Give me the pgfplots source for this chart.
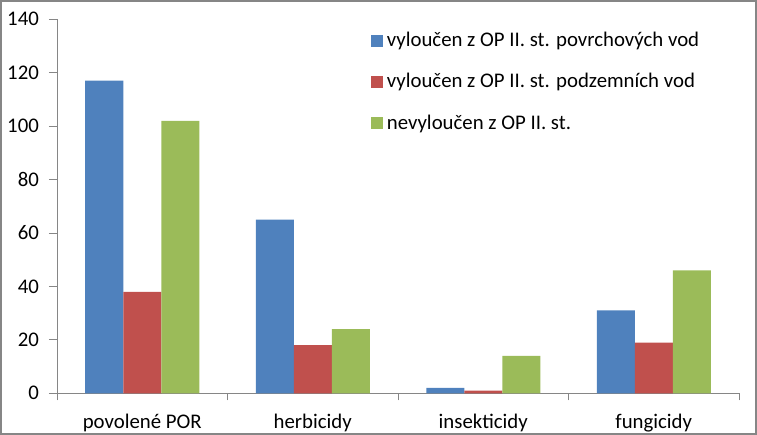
\documentclass[border=0pt]{standalone}
\usepackage{pgfplots}
\pgfplotsset{compat=1.18}
\usepackage{fontspec}
\setmainfont{Carlito}
\definecolor{cblue}{HTML}{4F81BD}
\definecolor{cred}{HTML}{C0504D}
\definecolor{cgreen}{HTML}{9BBB59}
\definecolor{axgray}{HTML}{868686}
\begin{document}
\fontsize{20.8bp}{24bp}\selectfont
\begin{tikzpicture}
\useasboundingbox (0,0) rectangle (757bp,435bp);
\draw[axgray, line width=2.3bp] (1.1bp,1.2bp) rectangle (755.7bp,433.9bp);
\begin{axis}[
  at={(57bp,41.7bp)}, anchor=south west,
  scale only axis, width=682bp, height=374bp,
  xmin=-0.5, xmax=3.5, ymin=0, ymax=140,
  ybar=0pt, bar width=38bp,
  axis x line*=bottom, axis y line*=left,
  axis line style={axgray, line width=0.9bp},
  xtick={0,1,2,3},
  xticklabels={povolené POR, herbicidy, insekticidy, fungicidy},
  minor xtick={-0.5,0.5,1.5,2.5,3.5},
  major x tick style={draw=none},
  minor x tick style={axgray, line width=0.9bp},
  ytick={0,20,...,140},
  y tick style={axgray, line width=0.9bp},
  tick align=outside,
  major tick length=8bp, minor tick length=7bp,
  /pgf/number format/assume math mode=true,
  tick label style={font=\fontsize{20.8bp}{24bp}\selectfont, text=black},
  yticklabel style={xshift=-3bp},
  xticklabel style={yshift=-6bp},
  legend style={draw=none, fill=none, at={(310.7bp,365bp)}, anchor=north west,
    font=\fontsize{20.8bp}{24bp}\selectfont, cells={anchor=west}, row sep=19.5bp,
    legend cell align=left},
  legend image code/.code={\fill[#1] (0bp,-6bp) rectangle (12bp,6bp); \path (14bp,0bp);},
]
\addplot[fill=cblue, draw=none] coordinates {(0,117) (1,65) (2,2) (3,31)};
\addplot[fill=cred, draw=none] coordinates {(0,38) (1,18) (2,1) (3,19)};
\addplot[fill=cgreen, draw=none] coordinates {(0,102) (1,24) (2,14) (3,46)};
\legend{vyloučen z OP II. st. povrchových vod, vyloučen z OP II. st. podzemních vod, nevyloučen z OP II. st.}
\end{axis}
\end{tikzpicture}
\end{document}
